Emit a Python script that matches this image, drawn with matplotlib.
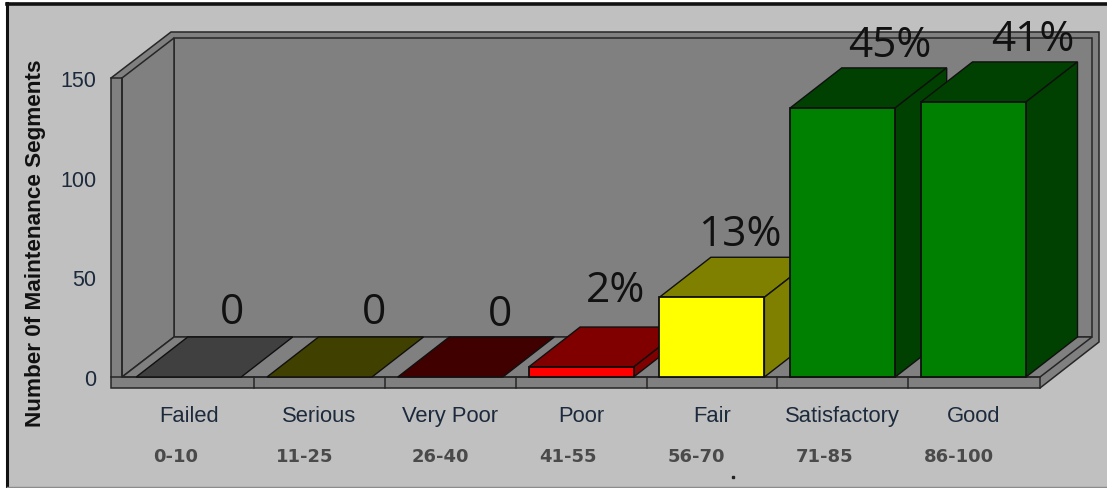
import matplotlib
matplotlib.use('Agg')
import matplotlib.pyplot as plt
from matplotlib.patches import Polygon, Rectangle

categories = ['Failed', 'Serious', 'Very Poor', 'Poor', 'Fair', 'Satisfactory', 'Good']
ranges = ['0-10', '11-25', '26-40', '41-55', '56-70', '71-85', '86-100']
values = [0, 0, 0, 5, 40, 135, 138]
percents = ['0', '0', '0', '2%', '13%', '45%', '41%']
front_colors = ['#808080', '#808000', '#800000', '#FF0000', '#FFFF00', '#008000', '#008000']
dark_colors = ['#404040', '#404000', '#400000', '#800000', '#808000', '#004000', '#004000']
yticks = [0, 50, 100, 150]

# where the labels sit in the picture, in pixels
range_x = [176, 305, 440, 568, 696, 825, 959]
percent_x = [232, 374, 500, 616, 740, 890, 1033]
percent_y = [313, 313, 315, 291, 235, 46, 40]

W, H = 1107, 489
LINE = '#262626'
GREY = '#808080'

fig = plt.figure(figsize=(W / 100, H / 100), dpi=100, facecolor='white')

# background axes in pixel coordinates, for the frame of the 3d box
bg = fig.add_axes([0, 0, 1, 1])
bg.set_xlim(0, W)
bg.set_ylim(H - 1, -1)
bg.axis('off')


def box(points, color=GREY):
    bg.add_patch(Polygon(points, closed=True, facecolor=color, edgecolor=LINE, linewidth=1.1, joinstyle='miter'))


bg.add_patch(Rectangle((7, 4), W, 483, facecolor='#C0C0C0', edgecolor='none'))
bg.plot([7, 7], [3, H], color='#111111', lw=2.2)
bg.plot([7, W], [4, 4], color='#111111', lw=2.6)
bg.plot([7, W], [487, 487], color='#8c8c8c', lw=1)

# outer silhouette
box([(111, 78), (171, 32), (1099, 32), (1099, 342), (1040, 388), (111, 388)])
# back wall, left wall, floor
box([(174, 38), (1092, 38), (1092, 337), (174, 337)])
box([(122, 78), (174, 38), (174, 337), (122, 377)])
box([(122, 377), (174, 337), (1092, 337), (1040, 377)])
bg.plot([111, 122], [78, 78], color=LINE, lw=1.1)
bg.plot([122, 122], [78, 377], color=LINE, lw=1.1)
bg.plot([1040, 1040], [377, 388], color=LINE, lw=1.1)
bg.plot([111, 1040], [377, 377], color=LINE, lw=1.1)
bg.plot([733], [477], marker='s', ms=1.6, color='#222222')

# chart axes: x in categories, y in segments
left, right, top, bottom = 123, 1039, 79, 378
ax = fig.add_axes([left / W, 1 - bottom / H, (right - left) / W, (bottom - top) / H])
ax.patch.set_alpha(0)
x0, step = 188.7, 130.8
ax.set_xlim((left - x0) / step, (right - x0) / step)
ax.set_ylim(0, 150)
for s in ax.spines.values():
    s.set_visible(False)

bar_w = 105 / step
depth_x = 51.5 / step
depth_y = 40 * 150 / (bottom - top)

xs = list(range(len(values)))
for i, v in zip(xs, values):
    l, r = i - bar_w / 2, i + bar_w / 2
    top_face = [(l, v), (r, v), (r + depth_x, v + depth_y), (l + depth_x, v + depth_y)]
    ax.add_patch(Polygon(top_face, facecolor=dark_colors[i], edgecolor='#101010', lw=1, clip_on=False, zorder=2 + i))
    if v > 0:
        side = [(r, 0), (r + depth_x, depth_y), (r + depth_x, v + depth_y), (r, v)]
        ax.add_patch(Polygon(side, facecolor=dark_colors[i], edgecolor='#101010', lw=1, clip_on=False, zorder=2 + i))
        ax.bar(i, v, width=bar_w, color=front_colors[i], edgecolor='#101010', linewidth=1.3, clip_on=False, zorder=2 + i)

# dividers on the floor plate
for i in xs[:-1]:
    bg.plot([x0 + (i + 0.5) * step] * 2, [377, 388], color=LINE, lw=1.1)

tick_color = '#1d2a3c'
ax.set_xticks(xs)
ax.set_xticklabels(categories, family='Liberation Sans', fontsize=15.8, color=tick_color)
ax.set_yticks(yticks)
ax.set_yticklabels(yticks, family='Liberation Sans', fontsize=15.5, color=tick_color)
ax.tick_params(axis='x', length=0, pad=20.5)
ax.tick_params(axis='y', length=0, pad=19)
ax.set_ylabel('Number 0f Maintenance Segments', family='Liberation Sans', fontsize=16.2,
              fontweight='bold', color='#111111')
ax.yaxis.set_label_coords((46 - left) / (right - left), (bottom - 243) / (bottom - top))

# labels on top, in pixel coordinates
over = fig.add_axes([0, 0, 1, 1])
over.set_xlim(0, W)
over.set_ylim(H, 0)
over.axis('off')
over.patch.set_alpha(0)
for x, t in zip(range_x, ranges):
    over.text(x, 457, t, ha='center', va='center', family='DejaVu Sans', fontsize=13,
              fontweight='bold', color='#4a4a4a')
for x, y, t in zip(percent_x, percent_y, percents):
    over.text(x, y, t, ha='center', va='center', family='Open Sans', fontsize=30.5, color='#111111')

fig.savefig('out.png', dpi=100)
